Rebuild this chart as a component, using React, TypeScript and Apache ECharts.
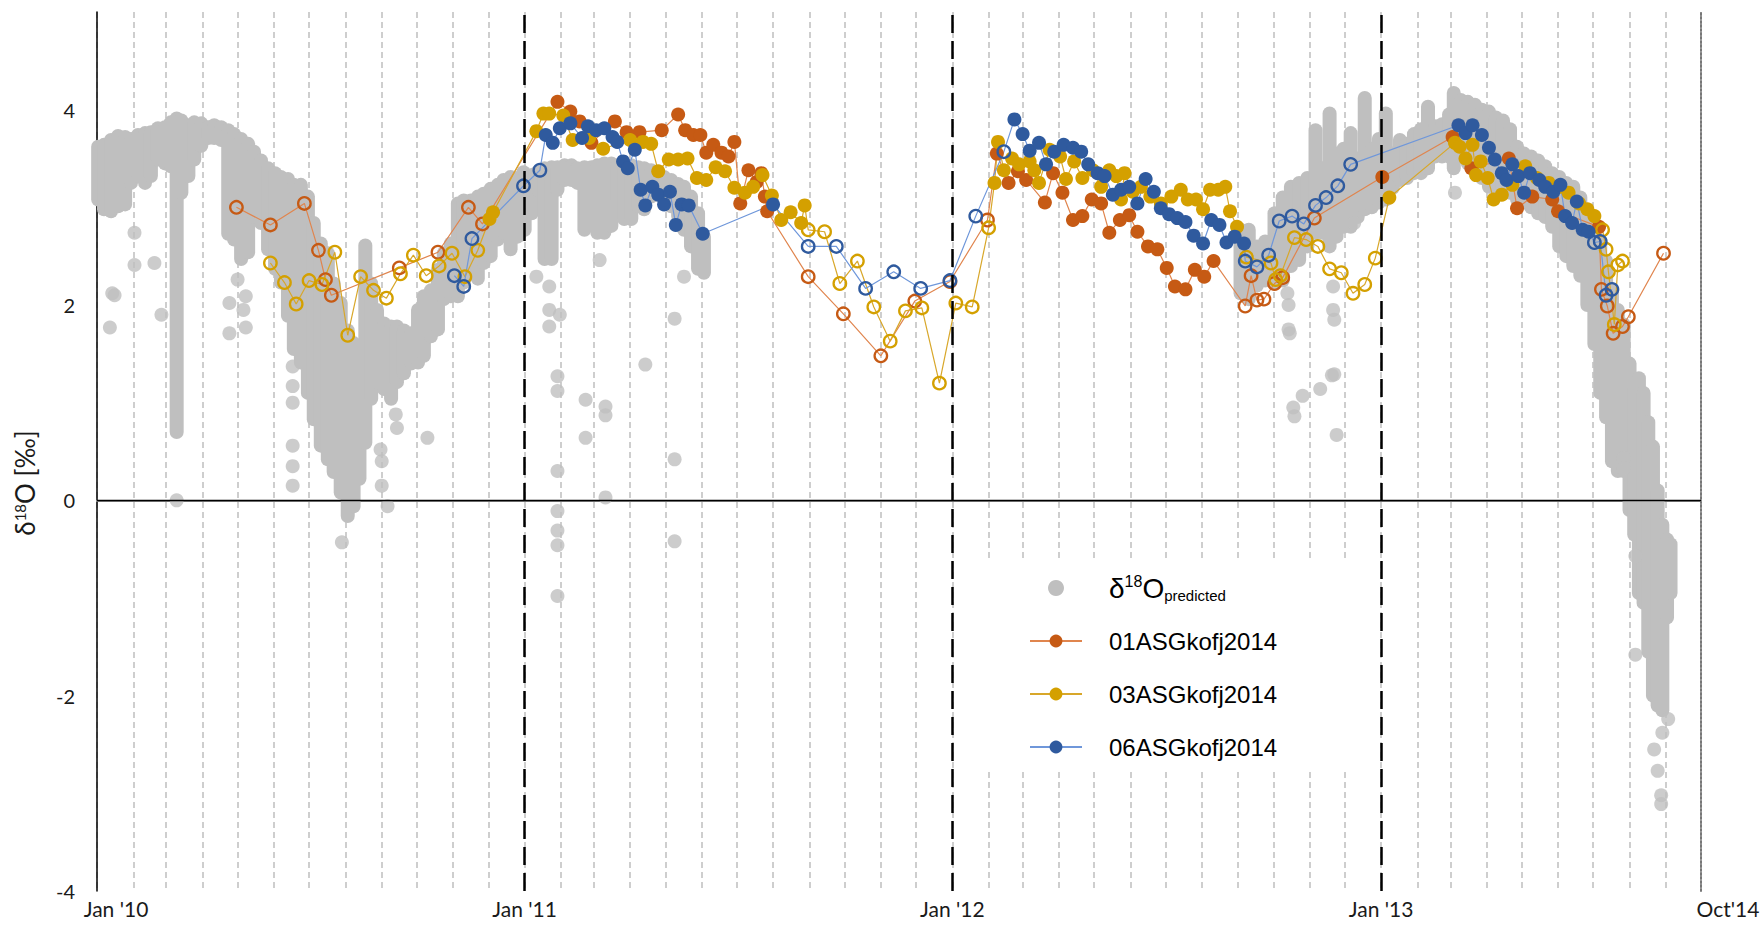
import { useEffect, useRef } from 'react';
import * as echarts from 'echarts';

// ---------- data ----------
// predicted δ18O: dense daily clusters, stored as [date, lowest value, highest value]
type Band = [string, number, number];
// single predicted values that sit apart from the main cloud
type Pt = [string, number];
// sensor samples: [date, δ18O, 1 = filled marker / 0 = open marker]
type Obs = [string, number, number];

const predName = 'δ18O predicted';
const sensorNames = ['01ASGkofj2014', '03ASGkofj2014', '06ASGkofj2014'];

const xTickDates = ['2010-01-01', '2011-01-01', '2012-01-01', '2013-01-01', '2013-10-01'];
const xTickLabels = ["Jan '10", "Jan '11", "Jan '12", "Jan '13", "Oct'14"];
const yearDividers = ['2011-01-01', '2012-01-01', '2013-01-01'];

const predBands: Band[] = [
  ['2010-01-02', 3.08, 3.62], ['2010-01-07', 2.98, 3.64], ['2010-01-13', 2.96, 3.69], ['2010-01-19', 3.01, 3.73],
  ['2010-01-25', 3.03, 3.72], ['2010-01-30', 3.25, 3.70], ['2010-02-05', 3.32, 3.74], ['2010-02-11', 3.25, 3.76],
  ['2010-02-16', 3.32, 3.77], ['2010-02-22', 3.49, 3.81], ['2010-02-28', 3.45, 3.82], ['2010-03-05', 3.42, 3.87],
  ['2010-03-10', 0.70, 3.91], ['2010-03-14', 3.15, 3.89], ['2010-03-20', 3.32, 3.84], ['2010-03-25', 3.49, 3.87],
  ['2010-03-31', 3.63, 3.86], ['2010-04-06', 3.71, 3.82], ['2010-04-11', 3.71, 3.84], ['2010-04-17', 3.69, 3.82],
  ['2010-04-23', 2.73, 3.79], ['2010-04-28', 2.67, 3.75], ['2010-05-04', 2.47, 3.70], ['2010-05-10', 2.54, 3.65],
  ['2010-05-15', 2.90, 3.57], ['2010-05-21', 2.84, 3.48], ['2010-05-27', 2.57, 3.40], ['2010-06-02', 2.37, 3.35],
  ['2010-06-07', 2.23, 3.31], ['2010-06-13', 1.89, 3.29], ['2010-06-18', 1.55, 3.23], ['2010-06-24', 1.41, 3.23],
  ['2010-06-30', 1.10, 3.11], ['2010-07-05', 0.83, 2.84], ['2010-07-11', 0.56, 2.63], ['2010-07-17', 0.42, 2.53],
  ['2010-07-22', 0.29, 2.22], ['2010-07-28', 0.08, 2.02], ['2010-08-03', -0.16, 1.74], ['2010-08-08', -0.06, 1.61],
  ['2010-08-13', 0.22, 1.57], ['2010-08-18', 0.59, 2.61], ['2010-08-23', 1.04, 2.22], ['2010-08-28', 1.21, 1.95],
  ['2010-09-03', 1.14, 1.81], ['2010-09-09', 1.04, 1.78], ['2010-09-14', 1.21, 1.78], ['2010-09-20', 1.30, 1.74],
  ['2010-09-26', 1.40, 1.71], ['2010-10-02', 1.41, 1.95], ['2010-10-07', 1.48, 2.09], ['2010-10-13', 1.68, 2.15],
  ['2010-10-19', 1.75, 2.36], ['2010-10-24', 2.06, 2.53], ['2010-10-30', 2.09, 2.63], ['2010-11-05', 2.09, 3.04],
  ['2010-11-10', 2.23, 3.07], ['2010-11-16', 2.33, 3.07], ['2010-11-22', 2.27, 3.11], ['2010-11-27', 2.43, 3.14],
  ['2010-12-03', 2.50, 3.19], ['2010-12-09', 2.67, 3.23], ['2010-12-14', 2.74, 3.28], ['2010-12-20', 2.57, 3.31],
  ['2010-12-26', 2.70, 3.30], ['2010-12-31', 2.77, 3.36],
  ['2011-01-01', 2.77, 3.31], ['2011-01-07', 2.94, 3.33], ['2011-01-12', 3.18, 3.36], ['2011-01-18', 2.47, 3.40],
  ['2011-01-24', 2.47, 3.41], ['2011-01-29', 3.18, 3.41], ['2011-02-04', 3.28, 3.43], ['2011-02-10', 3.28, 3.43],
  ['2011-02-15', 3.25, 3.40], ['2011-02-21', 2.77, 3.41], ['2011-02-27', 3.25, 3.41], ['2011-03-04', 2.74, 3.43],
  ['2011-03-10', 2.74, 3.45], ['2011-03-16', 2.81, 3.45], ['2011-03-21', 3.08, 3.43], ['2011-03-27', 2.88, 3.43],
  ['2011-04-02', 2.88, 3.43], ['2011-04-08', 3.01, 3.41], ['2011-04-13', 2.98, 3.40], ['2011-04-19', 3.11, 3.38],
  ['2011-04-25', 3.15, 3.35], ['2011-04-30', 3.08, 3.31], ['2011-05-06', 3.01, 3.28], ['2011-05-12', 2.91, 3.24],
  ['2011-05-17', 2.77, 3.21], ['2011-05-23', 2.60, 3.11], ['2011-05-29', 2.37, 2.94], ['2011-06-03', 2.33, 2.70],
  ['2012-09-03', 2.12, 2.77], ['2012-09-10', 2.06, 2.77], ['2012-09-17', 2.20, 2.60], ['2012-09-24', 2.25, 2.65],
  ['2012-10-02', 2.22, 2.94], ['2012-10-09', 2.25, 3.10], ['2012-10-16', 2.40, 3.21], ['2012-10-23', 2.46, 3.25],
  ['2012-10-30', 2.60, 3.30], ['2012-11-06', 2.74, 3.79], ['2012-11-12', 2.74, 3.40], ['2012-11-18', 2.60, 3.96],
  ['2012-11-24', 2.70, 3.55], ['2012-11-30', 2.80, 3.60], ['2012-12-06', 2.80, 3.76], ['2012-12-12', 2.90, 3.50],
  ['2012-12-18', 2.98, 4.12], ['2012-12-24', 3.00, 3.60], ['2012-12-30', 3.05, 3.70], ['2013-01-05', 3.08, 3.96],
  ['2013-01-11', 3.20, 3.55], ['2013-01-17', 3.28, 3.69], ['2013-01-23', 3.30, 3.65], ['2013-01-29', 3.35, 3.75],
  ['2013-02-04', 3.35, 3.80], ['2013-02-10', 3.40, 4.03], ['2013-02-16', 3.52, 3.83], ['2013-02-22', 3.52, 3.85],
  ['2013-02-28', 3.52, 3.95], ['2013-03-04', 3.40, 4.17], ['2013-03-10', 3.55, 4.10], ['2013-03-16', 3.45, 4.08],
  ['2013-03-22', 3.40, 4.05], ['2013-03-28', 3.30, 4.00], ['2013-04-03', 3.21, 3.98], ['2013-04-09', 3.20, 3.92],
  ['2013-04-15', 3.18, 3.89], ['2013-04-21', 3.15, 3.80], ['2013-04-27', 3.08, 3.62], ['2013-05-03', 3.05, 3.55],
  ['2013-05-09', 3.00, 3.52], ['2013-05-15', 2.94, 3.48], ['2013-05-21', 2.90, 3.42], ['2013-05-27', 2.80, 3.35],
  ['2013-06-02', 2.60, 3.31], ['2013-06-08', 2.50, 3.25], ['2013-06-14', 2.40, 3.21], ['2013-06-20', 2.30, 3.10],
  ['2013-06-26', 2.00, 2.95], ['2013-07-02', 1.60, 2.80], ['2013-07-07', 1.10, 2.65], ['2013-07-12', 0.85, 2.45],
  ['2013-07-17', 0.40, 2.15], ['2013-07-22', 0.30, 1.95], ['2013-07-27', 0.30, 1.80], ['2013-08-01', -0.10, 1.40],
  ['2013-08-05', -0.35, 1.15], ['2013-08-09', -0.95, 1.25], ['2013-08-13', -1.05, 1.10], ['2013-08-17', -1.55, 0.80],
  ['2013-08-21', -2.00, 0.55], ['2013-08-25', -2.10, 0.10], ['2013-08-29', -2.15, -0.25], ['2013-09-02', -1.20, -0.40],
  ['2013-09-05', -0.95, -0.45],
];

const predOutliers: Pt[] = [
  ['2010-01-12', 1.77], ['2010-01-14', 2.12], ['2010-01-16', 2.10], ['2010-02-02', 2.74], ['2010-02-02', 2.41],
  ['2010-02-19', 2.43], ['2010-02-25', 1.90], ['2010-03-10', 0.00], ['2010-04-24', 2.02], ['2010-04-24', 1.71],
  ['2010-05-01', 2.26], ['2010-05-06', 1.95], ['2010-05-08', 2.09], ['2010-05-08', 1.77], ['2010-06-17', 1.37],
  ['2010-06-17', 1.17], ['2010-06-17', 1.00], ['2010-06-17', 0.56], ['2010-06-17', 0.35], ['2010-06-17', 0.15],
  ['2010-07-29', -0.43], ['2010-08-31', 0.52], ['2010-09-01', 0.40], ['2010-09-01', 0.15], ['2010-09-06', -0.06],
  ['2010-09-13', 0.88], ['2010-09-14', 0.74], ['2010-10-10', 0.64],
  ['2011-01-11', 2.29], ['2011-01-22', 2.19], ['2011-01-22', 1.95], ['2011-01-22', 1.78], ['2011-01-31', 1.90],
  ['2011-01-29', 1.27], ['2011-01-29', 1.12], ['2011-01-29', 0.30], ['2011-01-29', -0.11], ['2011-01-29', -0.31],
  ['2011-01-29', -0.46], ['2011-01-29', -0.98], ['2011-02-22', 1.03], ['2011-02-22', 0.64], ['2011-03-06', 2.46],
  ['2011-03-11', 0.96], ['2011-03-11', 0.87], ['2011-03-11', 0.03], ['2011-04-14', 1.39], ['2011-05-09', 1.86],
  ['2011-05-09', 0.42], ['2011-05-09', -0.42], ['2011-05-17', 2.29],
  ['2012-10-13', 2.12], ['2012-10-14', 2.00], ['2012-10-14', 1.75], ['2012-10-15', 1.71], ['2012-10-18', 0.95],
  ['2012-10-19', 0.86], ['2012-10-26', 1.07], ['2012-11-10', 1.14], ['2012-11-20', 1.28], ['2012-11-21', 2.19],
  ['2012-11-21', 1.95], ['2012-11-22', 1.85], ['2012-11-22', 1.29], ['2012-11-24', 0.67], ['2012-12-09', 2.84],
  ['2013-03-05', 3.15], ['2013-07-27', 0.43], ['2013-07-27', 0.33], ['2013-08-06', -0.57], ['2013-08-06', -1.58],
  ['2013-08-22', -2.55], ['2013-08-25', -2.77], ['2013-08-28', -3.02], ['2013-08-28', -3.11], ['2013-08-29', -2.38],
  ['2013-09-03', -2.24],
];

const obs01: Obs[] = [
  ['2010-04-30', 3.00, 0], ['2010-05-29', 2.82, 0], ['2010-06-27', 3.04, 0], ['2010-07-09', 2.56, 0],
  ['2010-07-15', 2.26, 0], ['2010-07-20', 2.10, 0], ['2010-09-16', 2.38, 0], ['2010-10-19', 2.54, 0],
  ['2010-11-14', 3.00, 0], ['2010-11-26', 2.83, 0],
  ['2011-01-29', 4.08, 1], ['2011-02-09', 3.98, 1], ['2011-02-17', 3.88, 1], ['2011-02-27', 3.66, 1],
  ['2011-03-19', 3.88, 1], ['2011-03-29', 3.77, 1], ['2011-04-09', 3.77, 1], ['2011-04-28', 3.79, 1],
  ['2011-05-12', 3.95, 1], ['2011-05-18', 3.79, 1], ['2011-05-25', 3.74, 1], ['2011-05-31', 3.74, 1],
  ['2011-06-05', 3.56, 1], ['2011-06-11', 3.64, 1], ['2011-06-18', 3.56, 1], ['2011-06-24', 3.52, 1],
  ['2011-06-29', 3.67, 1], ['2011-07-04', 3.04, 1], ['2011-07-11', 3.38, 1], ['2011-07-18', 3.26, 1],
  ['2011-07-22', 3.35, 1], ['2011-07-25', 3.11, 1], ['2011-07-27', 2.96, 1],
  ['2011-08-31', 2.29, 0], ['2011-09-30', 1.91, 0], ['2011-11-01', 1.48, 0], ['2011-11-30', 2.04, 0],
  ['2011-12-30', 2.24, 0], ['2012-01-31', 2.87, 0],
  ['2012-02-08', 3.55, 1], ['2012-02-18', 3.25, 1], ['2012-02-26', 3.37, 1], ['2012-03-04', 3.28, 1],
  ['2012-03-20', 3.05, 1], ['2012-03-27', 3.35, 1], ['2012-04-04', 3.15, 1], ['2012-04-13', 2.87, 1],
  ['2012-04-21', 2.91, 1], ['2012-04-29', 3.08, 1], ['2012-05-07', 3.04, 1], ['2012-05-14', 2.74, 1],
  ['2012-05-23', 2.87, 1], ['2012-05-31', 2.92, 1], ['2012-06-07', 2.75, 1], ['2012-06-16', 2.60, 1],
  ['2012-06-24', 2.57, 1], ['2012-07-02', 2.38, 1], ['2012-07-09', 2.19, 1], ['2012-07-18', 2.16, 1],
  ['2012-07-26', 2.36, 1], ['2012-08-03', 2.29, 1], ['2012-08-11', 2.45, 1],
  ['2012-09-07', 1.99, 0], ['2012-09-12', 2.30, 0], ['2012-09-17', 2.05, 0], ['2012-09-23', 2.06, 0],
  ['2012-10-02', 2.22, 0], ['2012-10-09', 2.28, 0], ['2012-11-05', 2.89, 0],
  ['2013-01-02', 3.31, 1], ['2013-03-03', 3.72, 1], ['2013-03-19', 3.40, 1], ['2013-04-20', 3.50, 1],
  ['2013-04-27', 2.99, 1], ['2013-05-10', 3.11, 1], ['2013-05-27', 3.08, 1], ['2013-06-01', 2.96, 1],
  ['2013-07-06', 2.80, 1],
  ['2013-07-08', 2.16, 0], ['2013-07-13', 1.99, 0], ['2013-07-18', 1.71, 0], ['2013-07-26', 1.78, 0],
  ['2013-07-31', 1.88, 0], ['2013-08-30', 2.53, 0],
];

const obs03: Obs[] = [
  ['2010-05-29', 2.43, 0], ['2010-06-10', 2.23, 0], ['2010-06-20', 2.01, 0], ['2010-07-01', 2.25, 0],
  ['2010-07-12', 2.21, 0], ['2010-07-23', 2.54, 0], ['2010-08-03', 1.69, 0], ['2010-08-14', 2.29, 0],
  ['2010-08-25', 2.15, 0], ['2010-09-05', 2.07, 0], ['2010-09-17', 2.32, 0], ['2010-09-28', 2.51, 0],
  ['2010-10-09', 2.30, 0], ['2010-10-20', 2.40, 0], ['2010-10-31', 2.53, 0], ['2010-11-11', 2.29, 0],
  ['2010-11-22', 2.56, 0],
  ['2010-12-02', 2.88, 1], ['2010-12-05', 2.95, 1], ['2011-01-11', 3.78, 1], ['2011-01-17', 3.96, 1],
  ['2011-01-22', 3.96, 1], ['2011-02-03', 3.94, 1], ['2011-02-11', 3.69, 1], ['2011-02-25', 3.71, 1],
  ['2011-03-09', 3.60, 1], ['2011-04-01', 3.69, 1], ['2011-04-12', 3.67, 1], ['2011-04-19', 3.65, 1],
  ['2011-04-25', 3.37, 1], ['2011-05-04', 3.49, 1], ['2011-05-12', 3.49, 1], ['2011-05-20', 3.50, 1],
  ['2011-05-28', 3.30, 1], ['2011-06-05', 3.28, 1], ['2011-06-13', 3.41, 1], ['2011-06-21', 3.37, 1],
  ['2011-06-29', 3.20, 1], ['2011-07-08', 3.15, 1], ['2011-07-15', 3.21, 1], ['2011-07-23', 3.33, 1],
  ['2011-07-31', 3.12, 1], ['2011-08-08', 2.87, 1], ['2011-08-16', 2.95, 1], ['2011-08-25', 2.84, 1],
  ['2011-08-28', 3.02, 1],
  ['2011-08-31', 2.77, 0], ['2011-09-14', 2.75, 0], ['2011-09-27', 2.22, 0], ['2011-10-12', 2.45, 0],
  ['2011-10-26', 1.98, 0], ['2011-11-09', 1.63, 0], ['2011-11-22', 1.94, 0], ['2011-12-06', 1.97, 0],
  ['2011-12-21', 1.20, 0], ['2012-01-04', 2.02, 0], ['2012-01-18', 1.98, 0], ['2012-02-01', 2.79, 0],
  ['2012-02-06', 3.25, 1], ['2012-02-09', 3.67, 1], ['2012-02-14', 3.38, 1], ['2012-02-21', 3.50, 1],
  ['2012-02-27', 3.44, 1], ['2012-03-07', 3.47, 1], ['2012-03-11', 3.38, 1], ['2012-03-15', 3.25, 1],
  ['2012-03-24', 3.59, 1], ['2012-04-02', 3.52, 1], ['2012-04-07', 3.29, 1], ['2012-04-14', 3.47, 1],
  ['2012-04-21', 3.30, 1], ['2012-04-30', 3.38, 1], ['2012-05-07', 3.21, 1], ['2012-05-14', 3.38, 1],
  ['2012-05-20', 3.32, 1], ['2012-05-24', 3.08, 1], ['2012-05-27', 3.35, 1], ['2012-06-03', 3.16, 1],
  ['2012-06-10', 3.21, 1], ['2012-06-18', 3.11, 1], ['2012-06-27', 3.04, 1], ['2012-07-06', 3.11, 1],
  ['2012-07-14', 3.18, 1], ['2012-07-20', 3.08, 1], ['2012-07-27', 3.08, 1], ['2012-08-02', 2.98, 1],
  ['2012-08-08', 3.18, 1], ['2012-08-15', 3.18, 1], ['2012-08-21', 3.21, 1], ['2012-08-25', 2.96, 1],
  ['2012-08-31', 2.80, 1],
  ['2012-09-08', 2.49, 0], ['2012-09-29', 2.43, 0], ['2012-10-03', 2.26, 0], ['2012-10-07', 2.30, 0],
  ['2012-10-19', 2.69, 0], ['2012-10-29', 2.67, 0], ['2012-11-08', 2.60, 0], ['2012-11-18', 2.37, 0],
  ['2012-11-28', 2.33, 0], ['2012-12-08', 2.12, 0], ['2012-12-18', 2.21, 0], ['2012-12-27', 2.48, 0],
  ['2013-01-08', 3.10, 1], ['2013-03-05', 3.66, 1], ['2013-03-09', 3.62, 1], ['2013-03-14', 3.50, 1],
  ['2013-03-20', 3.64, 1], ['2013-03-23', 3.33, 1], ['2013-03-27', 3.47, 1], ['2013-04-02', 3.30, 1],
  ['2013-04-07', 3.08, 1], ['2013-04-14', 3.13, 1], ['2013-04-23', 3.23, 1], ['2013-05-04', 3.42, 1],
  ['2013-05-14', 3.30, 1], ['2013-05-24', 3.25, 1], ['2013-06-02', 3.21, 1], ['2013-06-10', 3.15, 1],
  ['2013-06-19', 3.04, 1], ['2013-06-26', 2.98, 1], ['2013-07-02', 2.91, 1],
  ['2013-07-09', 2.77, 0], ['2013-07-12', 2.57, 0], ['2013-07-14', 2.34, 0], ['2013-07-19', 1.80, 0],
  ['2013-07-22', 2.41, 0], ['2013-07-26', 2.45, 0],
];

const obs06: Obs[] = [
  ['2010-11-02', 2.30, 0], ['2010-11-10', 2.19, 0], ['2010-11-17', 2.68, 0], ['2010-12-31', 3.22, 0],
  ['2011-01-14', 3.38, 0],
  ['2011-01-19', 3.74, 1], ['2011-01-25', 3.66, 1], ['2011-01-31', 3.81, 1], ['2011-02-09', 3.86, 1],
  ['2011-02-19', 3.71, 1], ['2011-02-24', 3.83, 1], ['2011-03-03', 3.79, 1], ['2011-03-10', 3.81, 1],
  ['2011-03-17', 3.72, 1], ['2011-03-21', 3.67, 1], ['2011-03-26', 3.47, 1], ['2011-03-30', 3.40, 1],
  ['2011-04-05', 3.59, 1], ['2011-04-10', 3.18, 1], ['2011-04-14', 3.02, 1], ['2011-04-20', 3.21, 1],
  ['2011-04-25', 3.13, 1], ['2011-04-30', 3.03, 1], ['2011-05-05', 3.16, 1], ['2011-05-10', 2.82, 1],
  ['2011-05-15', 3.03, 1], ['2011-05-21', 3.02, 1], ['2011-06-02', 2.73, 1], ['2011-08-01', 3.03, 1],
  ['2011-08-31', 2.60, 0], ['2011-09-24', 2.60, 0], ['2011-10-19', 2.17, 0], ['2011-11-12', 2.34, 0],
  ['2011-12-05', 2.17, 0], ['2011-12-30', 2.25, 0], ['2012-01-21', 2.91, 0], ['2012-02-14', 3.57, 0],
  ['2012-02-23', 3.90, 1], ['2012-03-01', 3.75, 1], ['2012-03-07', 3.58, 1], ['2012-03-15', 3.66, 1],
  ['2012-03-21', 3.44, 1], ['2012-03-28', 3.57, 1], ['2012-04-05', 3.64, 1], ['2012-04-13', 3.61, 1],
  ['2012-04-20', 3.57, 1], ['2012-04-26', 3.44, 1], ['2012-05-04', 3.35, 1], ['2012-05-10', 3.32, 1],
  ['2012-05-17', 3.13, 1], ['2012-05-24', 3.18, 1], ['2012-05-31', 3.21, 1], ['2012-06-07', 3.04, 1],
  ['2012-06-14', 3.29, 1], ['2012-06-21', 3.16, 1], ['2012-06-27', 2.99, 1], ['2012-07-04', 2.93, 1],
  ['2012-07-11', 2.89, 1], ['2012-07-18', 2.85, 1], ['2012-07-25', 2.71, 1], ['2012-08-02', 2.63, 1],
  ['2012-08-09', 2.87, 1], ['2012-08-16', 2.82, 1], ['2012-08-22', 2.64, 1], ['2012-08-29', 2.70, 1],
  ['2012-09-06', 2.63, 1],
  ['2012-09-07', 2.45, 0], ['2012-09-17', 2.39, 0], ['2012-09-27', 2.51, 0], ['2012-10-06', 2.86, 0],
  ['2012-10-17', 2.91, 0], ['2012-10-27', 2.83, 0], ['2012-11-06', 3.02, 0], ['2012-11-15', 3.10, 0],
  ['2012-11-25', 3.22, 0], ['2012-12-06', 3.44, 0],
  ['2013-03-08', 3.84, 1], ['2013-03-14', 3.76, 1], ['2013-03-20', 3.84, 1], ['2013-03-28', 3.74, 1],
  ['2013-04-03', 3.61, 1], ['2013-04-08', 3.49, 1], ['2013-04-14', 3.35, 1], ['2013-04-18', 3.28, 1],
  ['2013-04-23', 3.44, 1], ['2013-04-28', 3.32, 1], ['2013-05-03', 3.15, 1], ['2013-05-08', 3.35, 1],
  ['2013-05-16', 3.28, 1], ['2013-05-21', 3.21, 1], ['2013-05-28', 3.16, 1], ['2013-06-03', 3.23, 1],
  ['2013-06-07', 2.91, 1], ['2013-06-13', 2.84, 1], ['2013-06-17', 3.06, 1], ['2013-06-22', 2.77, 1],
  ['2013-06-27', 2.75, 1],
  ['2013-07-02', 2.64, 0], ['2013-07-07', 2.65, 0], ['2013-07-12', 2.10, 0], ['2013-07-17', 2.16, 0],
];

// ---------- styling ----------
const GRAY = '#BFBFBF';
const sensorStyles = [
  { mark: '#C65A14', line: '#E0854E' },
  { mark: '#D4A000', line: '#D8A72A' },
  { mark: '#2F5A9E', line: '#6F97DA' },
];
const sensorData = [obs01, obs03, obs06];
const tickFont = 'Lato, "Open Sans", sans-serif';
const legendFont = '"Liberation Sans", Arial, sans-serif';

const toTime = (s: string) => {
  const [y, m, d] = s.split('-').map(Number);
  return new Date(y, m - 1, d).getTime();
};

export default function App() {
  const ref = useRef<HTMLDivElement>(null);

  useEffect(() => {
    if (!ref.current) return;
    const chart = echarts.init(ref.current, undefined, { renderer: 'svg' });

    const xMin = toTime(xTickDates[0]);
    const xMax = toTime(xTickDates[xTickDates.length - 1]);

    // calendar month boundaries for the dashed grid
    const monthStarts: number[] = [];
    for (let y = 2010; y <= 2013; y++) {
      for (let m = 0; m < 12; m++) {
        const ts = new Date(y, m, 1).getTime();
        if (ts <= xMax) monthStarts.push(ts);
      }
    }
    const xTickTimes = xTickDates.map(toTime);

    const sensorSeries = sensorNames.map((name, i) => {
      const st = sensorStyles[i];
      return {
        name,
        type: 'line',
        z: 4,
        symbol: 'circle',
        symbolSize: 14,
        showSymbol: true,
        lineStyle: { color: st.line, width: 1.2 },
        itemStyle: { color: st.mark },
        emphasis: { disabled: true },
        silent: true,
        data: sensorData[i].map(([d, v, filled]) =>
          filled
            ? { value: [toTime(d), v] }
            : {
                value: [toTime(d), v],
                symbolSize: 12.5,
                itemStyle: { color: 'rgba(255,255,255,0)', borderColor: st.mark, borderWidth: 2.3 },
              }
        ),
      };
    });

    const yTickText = { fontFamily: tickFont, fontSize: 20, color: '#1a1a1a' };
    const xTickText = { fontFamily: tickFont, fontSize: 21, color: '#1a1a1a' };

    chart.setOption({
      animation: false,
      backgroundColor: '#fff',
      grid: { left: 97, right: 61, top: 12, bottom: 34, containLabel: false, outerBoundsMode: 'none' },
      xAxis: [
        {
          type: 'value',
          min: xMin,
          max: xMax,
          axisLine: { show: true, lineStyle: { color: '#8C8C8C', width: 2 } },
          axisTick: { show: false, customValues: monthStarts },
          splitLine: { show: true, lineStyle: { color: '#BEBEBE', width: 1.5, type: [6, 4] } },
          axisLabel: {
            customValues: xTickTimes,
            margin: 7,
            ...xTickText,
            formatter: (val: number) => {
              const idx = xTickTimes.indexOf(val);
              if (idx < 0) return '';
              const key = idx === 0 ? 'first' : idx === xTickTimes.length - 1 ? 'last' : 'mid';
              return `{${key}|${xTickLabels[idx]}}`;
            },
            rich: {
              mid: { ...xTickText },
              first: { ...xTickText, padding: [0, 0, 0, 38] },
              last: { ...xTickText, padding: [0, 0, 0, 54] },
            },
          },
        },
        {
          type: 'value',
          position: 'top',
          min: xMin,
          max: xMax,
          axisLine: { show: true, lineStyle: { color: '#8C8C8C', width: 2 } },
          axisTick: { show: false },
          axisLabel: { show: false },
          splitLine: { show: false },
        },
      ],
      yAxis: [
        {
          type: 'value',
          min: -4,
          max: 5,
          interval: 2,
          axisLine: { show: true, lineStyle: { color: '#000', width: 1.5 } },
          axisTick: { show: false },
          splitLine: { show: false },
          axisLabel: { showMaxLabel: false, margin: 22, ...yTickText },
        },
        {
          type: 'value',
          position: 'right',
          min: -4,
          max: 5,
          interval: 2,
          axisLine: { show: true, lineStyle: { color: '#777', width: 2, type: [2, 2] } },
          axisTick: { show: false },
          splitLine: { show: false },
          axisLabel: { show: false },
        },
      ],
      legend: {
        orient: 'vertical',
        left: 987,
        top: 560,
        backgroundColor: '#fff',
        padding: [13, 78, 9, 42],
        itemWidth: 52,
        itemHeight: 16,
        itemGap: 23,
        selectedMode: false,
        lineStyle: { width: 2 },
        data: [{ name: predName, icon: 'circle' }, ...sensorNames],
        formatter: (n: string) =>
          n === predName ? '{big|δ}{sup|18}{big|O}{sub|predicted}' : `{m|${n}}`,
        textStyle: {
          fontFamily: legendFont,
          fontSize: 24,
          color: '#000',
          lineHeight: 30,
          padding: [0, 0, 0, 22],
          rich: {
            m: { fontFamily: legendFont, fontSize: 24, color: '#000', lineHeight: 30 },
            big: { fontFamily: legendFont, fontSize: 28, color: '#000', lineHeight: 30 },
            sup: { fontFamily: legendFont, fontSize: 16, color: '#000', verticalAlign: 'top' },
            sub: { fontFamily: legendFont, fontSize: 15, color: '#000', verticalAlign: 'bottom' },
          },
        },
      },
      graphic: [
        {
          type: 'text',
          x: 25,
          y: 483,
          rotation: Math.PI / 2,
          style: {
            text: '{a|δ}{s|18}{a|O [‰]}',
            align: 'center',
            verticalAlign: 'middle',
            rich: {
              a: { fontFamily: tickFont, fontSize: 26, fill: '#1a1a1a' },
              s: { fontFamily: tickFont, fontSize: 15, fill: '#1a1a1a', verticalAlign: 'top' },
            },
          },
        },
      ],
      series: [
        {
          name: 'zero-line',
          type: 'line',
          z: 1,
          data: [],
          markLine: {
            silent: true,
            symbol: ['none', 'none'],
            label: { show: false },
            emphasis: { disabled: true },
            lineStyle: { color: '#000', width: 1.3, type: 'solid' },
            data: [{ yAxis: 0 }],
          },
        },
        {
          name: predName,
          type: 'custom',
          z: 2,
          silent: true,
          itemStyle: { color: GRAY },
          encode: { x: 0, y: [1, 2] },
          data: predBands.map(([d, lo, hi]) => [toTime(d), lo, hi]),
          renderItem: (_params: any, api: any) => {
            const a = api.coord([api.value(0), api.value(1)]);
            const b = api.coord([api.value(0), api.value(2)]);
            return {
              type: 'line',
              shape: { x1: a[0], y1: a[1], x2: b[0], y2: b[1] },
              style: { stroke: GRAY, lineWidth: 14, lineCap: 'round' },
            };
          },
        },
        {
          name: predName,
          type: 'scatter',
          z: 2,
          silent: true,
          symbol: 'circle',
          symbolSize: 14,
          itemStyle: { color: GRAY },
          data: predOutliers.map(([d, v]) => [toTime(d), v]),
        },
        {
          name: 'year-lines',
          type: 'line',
          z: 3,
          data: [],
          markLine: {
            silent: true,
            symbol: ['none', 'none'],
            label: { show: false },
            emphasis: { disabled: true },
            lineStyle: { color: '#000', width: 2.5, type: [18, 8] },
            data: yearDividers.map((d) => ({ xAxis: toTime(d) })),
          },
        },
        ...sensorSeries,
      ],
    });

    return () => chart.dispose();
  }, []);

  return (
    <div
      ref={ref}
      style={{ position: 'fixed', left: 0, top: 0, width: '1762px', height: '925px', background: '#fff' }}
    />
  );
}
